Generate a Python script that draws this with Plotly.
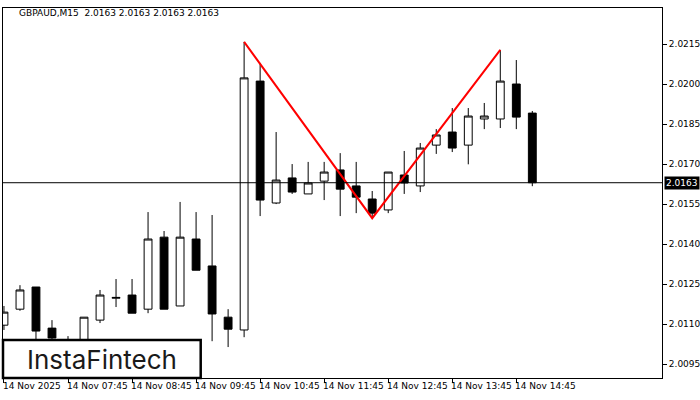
import plotly.graph_objects as go

opens = [2.01096, 2.01156, 2.01239, 2.01085, 2.0103, 2.01021, 2.01115, 2.01197, 2.01209, 2.01156,
         2.01426, 2.01168, 2.01419, 2.01318, 2.01126, 2.01078, 2.02011, 2.01554, 2.01648, 2.01588,
         2.01636, 2.01678, 2.01618, 2.01569, 2.01528, 2.01659, 2.01618, 2.01771, 2.0182, 2.01771,
         2.01869, 2.01869, 2.0200, 2.01891]
highs = [2.01168, 2.01246, 2.01239, 2.01115, 2.01055, 2.01126, 2.01228, 2.01269, 2.01269, 2.0152,
         2.01449, 2.01558, 2.0152, 2.01509, 2.01156, 2.02158, 2.02079, 2.0182, 2.0170, 2.01708,
         2.01708, 2.01741, 2.01708, 2.01599, 2.0167, 2.01749, 2.01779, 2.01831, 2.0191, 2.0191,
         2.01929, 2.02128, 2.0209, 2.01899]
lows = [2.01078, 2.0115, 2.0104, 2.0103, 2.0099, 2.0100, 2.01104, 2.01164, 2.01141, 2.01141,
        2.01156, 2.01168, 2.01302, 2.01036, 2.01014, 2.01051, 2.01505, 2.0155, 2.01588, 2.01588,
        2.01565, 2.01505, 2.01516, 2.01497, 2.01516, 2.01588, 2.01595, 2.01738, 2.01745, 2.01699,
        2.01831, 2.01835, 2.01831, 2.01617]
closes = [2.01145, 2.01228, 2.01074, 2.01048, 2.0102, 2.01126, 2.01209, 2.01200, 2.01141, 2.01419,
          2.01156, 2.01426, 2.01302, 2.01138, 2.01081, 2.02023, 2.01565, 2.0164, 2.01595, 2.01629,
          2.0167, 2.01606, 2.01576, 2.01516, 2.0167, 2.01629, 2.0176, 2.01809, 2.0176, 2.0188,
          2.0188, 2.02011, 2.01876, 2.0163]
idx = list(range(len(opens)))

tick_pos = [0, 4, 8, 12, 16, 20, 24, 28, 32]
tick_labels = ["14 Nov 2025", "14 Nov 07:45", "14 Nov 08:45", "14 Nov 09:45", "14 Nov 10:45",
               "14 Nov 11:45", "14 Nov 12:45", "14 Nov 13:45", "14 Nov 14:45"]
y_ticks = [2.0095, 2.0110, 2.0125, 2.0140, 2.0155, 2.0170, 2.0185, 2.0200, 2.0215]
pattern_idx = [15, 23, 31]
last_price = 2.0163

font = dict(family="DejaVu Sans", size=9, color="black")

fig = go.Figure()
fig.add_trace(go.Candlestick(
    x=idx, open=opens, high=highs, low=lows, close=closes,
    increasing=dict(fillcolor="white", line=dict(color="black", width=1)),
    decreasing=dict(fillcolor="black", line=dict(color="black", width=1)),
    whiskerwidth=0, showlegend=False, hoverinfo="skip",
))
fig.add_trace(go.Scatter(
    x=pattern_idx,
    y=[highs[pattern_idx[0]], lows[pattern_idx[1]], highs[pattern_idx[2]]],
    mode="lines", line=dict(color="red", width=2), showlegend=False, hoverinfo="skip",
))

fig.add_shape(type="line", xref="paper", x0=0, x1=1, yref="y", y0=last_price, y1=last_price,
              line=dict(color="black", width=1))
fig.add_shape(type="rect", xref="paper", yref="paper", x0=0, x1=0.30, y0=0, y1=0.103,
              fillcolor="white", line=dict(color="black", width=2.5))
fig.add_annotation(xref="paper", yref="paper", x=0.15, y=0.05, xanchor="center", yanchor="middle",
                   text="InstaFintech", showarrow=False,
                   font=dict(family="Inter", size=26, color="#1a1a1a"))
fig.add_annotation(xref="paper", yref="y", x=1, y=last_price, xanchor="left", text=f"{last_price:.4f}",
                   showarrow=False, bgcolor="black", font=dict(family="DejaVu Sans", size=9, color="white"),
                   xshift=2, borderpad=1)
fig.add_annotation(xref="paper", yref="paper", x=0.022, y=1, yanchor="top", xanchor="left",
                   text="GBPAUD,M15  2.0163 2.0163 2.0163 2.0163", showarrow=False,
                   font=font, yshift=2)
for p, t in zip(tick_pos, tick_labels):
    fig.add_annotation(xref="x", yref="paper", x=p, y=0, xanchor="left", yanchor="top",
                       text=t, showarrow=False, font=font, xshift=-3, yshift=-1)

fig.update_layout(
    width=700, height=400, margin=dict(l=3, r=38, t=8, b=22, autoexpand=False),
    paper_bgcolor="white", plot_bgcolor="white", font=font,
    xaxis=dict(range=[-0.06, 41.1], rangeslider=dict(visible=False), showgrid=False,
               tickvals=tick_pos, ticktext=[""] * len(tick_pos), ticks="outside", ticklen=4,
               tickcolor="black", showline=True, linecolor="black", mirror=True, zeroline=False),
    yaxis=dict(range=[2.00898, 2.02285], side="right", showgrid=False, tickvals=y_ticks,
               tickformat=".4f", ticks="outside", ticklen=4, tickcolor="black",
               showline=True, linecolor="black", mirror=True, zeroline=False, automargin=False),
)
fig.write_html("out.html", config={"displayModeBar": False},
               post_script="document.body.style.margin='0';")
